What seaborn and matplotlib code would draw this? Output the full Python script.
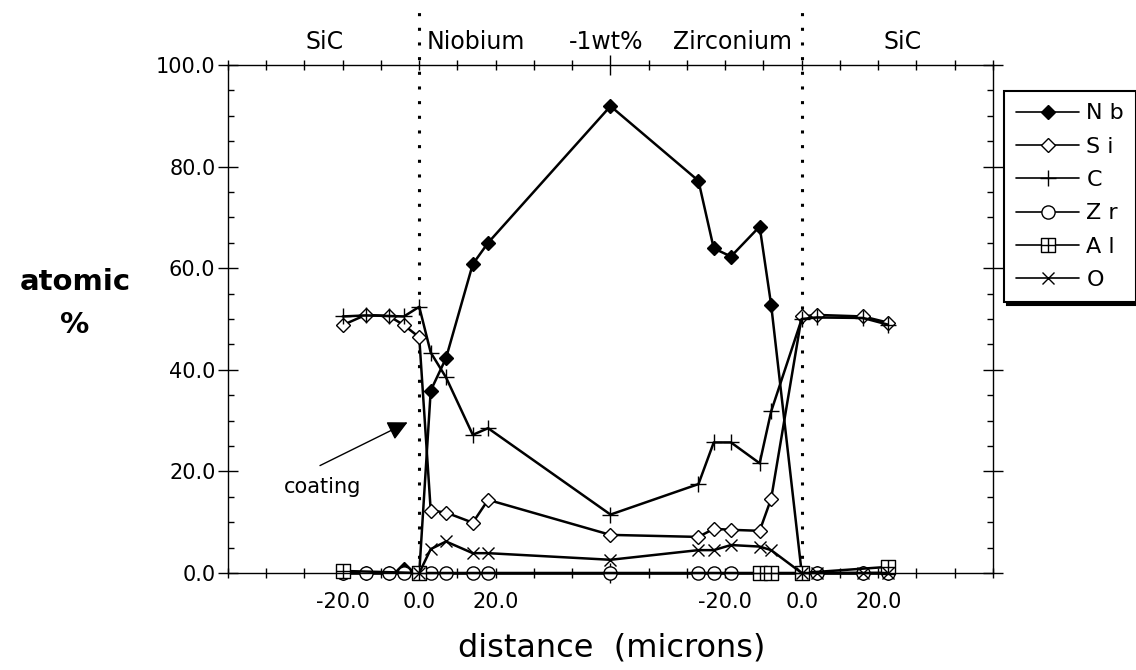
import matplotlib
matplotlib.use('Agg')
import matplotlib.pyplot as plt
import seaborn as sns
import pandas as pd
from matplotlib.lines import Line2D
from matplotlib.path import Path
from matplotlib.ticker import FixedLocator, MultipleLocator

# scan position (microns), left SiC/coating interface at 0, right interface at 100
pos = [-20, -14, -8, -4, 0, 3, 7, 14, 18, 50, 73, 77, 81.5, 89, 92, 100, 104, 116, 122.5]

nb = [0, 0, 0, 0.8, 0, 35.9, 42.3, 60.8, 65.0, 91.9, 77.2, 63.9, 62.3, 68.2, 52.8, 0, 0, 0, 0]
si = [48.8, 50.8, 50.6, 48.8, 46.4, 12.3, 11.9, 9.9, 14.4, 7.5, 7.1, 8.7, 8.5, 8.3, 14.6, 50.5, 50.8, 50.5, 49.3]
c = [50.5, 50.7, 50.6, 50.5, 52.4, 43.4, 38.5, 27.2, 28.5, 11.5, 17.5, 25.7, 25.7, 21.6, 31.8, 50.0, 50.3, 50.2, 48.9]
zr = [0, 0, 0, 0, 0, 0, 0, 0, 0, 0, 0, 0, 0, 0, 0, 0, 0, 0, 0]

al_pos = [-20, 0, 89, 92, 100, 122.5]
al = [0.4, 0, 0, 0, 0, 1.2]

o_pos = [0, 3, 7, 14, 18, 50, 73, 77, 81.5, 89, 92, 100, 104, 116, 122.5]
o = [0, 4.7, 6.2, 3.9, 3.9, 2.6, 4.5, 4.5, 5.5, 5.2, 4.5, 0, 0, 0, 0]

elements = ['N b', 'S i', 'C', 'Z r', 'A l', 'O']
xtick_pos = [-20, 0, 20, 50, 80, 100, 120]
xtick_labels = ['-20.0', '0.0', '20.0', '', '-20.0', '0.0', '20.0']
interfaces = [0, 100]

# square with a cross inside, for Al
sq_plus = Path(
    [(-1, -1), (1, -1), (1, 1), (-1, 1), (-1, -1), (0, -1), (0, 1), (-1, 0), (1, 0)],
    [Path.MOVETO, Path.LINETO, Path.LINETO, Path.LINETO, Path.CLOSEPOLY,
     Path.MOVETO, Path.LINETO, Path.MOVETO, Path.LINETO])

styles = {
    'N b': dict(marker='D', markersize=7, markerfacecolor='black'),
    'S i': dict(marker='D', markersize=7, markerfacecolor='white'),
    'C': dict(marker='+', markersize=11),
    'Z r': dict(marker='o', markersize=9.5, markerfacecolor='white'),
    'A l': dict(marker=sq_plus, markersize=9.5, markerfacecolor='white'),
    'O': dict(marker='x', markersize=9),
}

data = {
    'N b': pd.DataFrame({'pos': pos, 'pct': nb}),
    'S i': pd.DataFrame({'pos': pos, 'pct': si}),
    'C': pd.DataFrame({'pos': pos, 'pct': c}),
    'Z r': pd.DataFrame({'pos': pos, 'pct': zr}),
    'A l': pd.DataFrame({'pos': al_pos, 'pct': al}),
    'O': pd.DataFrame({'pos': o_pos, 'pct': o}),
}

sns.set_style('white')
plt.rcParams['font.family'] = ['DejaVu Sans']
plt.rcParams['text.color'] = 'black'
plt.rcParams['axes.labelcolor'] = 'black'
plt.rcParams['xtick.color'] = 'black'
plt.rcParams['ytick.color'] = 'black'

fig = plt.figure(figsize=(11.36, 6.70), dpi=100)
ax = fig.add_axes([0.2007, 0.1448, 0.6734, 0.7582])

for el in elements:
    sns.lineplot(data=data[el], x='pos', y='pct', ax=ax, color='black', linewidth=1.8,
                 markeredgecolor='black', markeredgewidth=1.0, clip_on=False,
                 errorbar=None, sort=False, legend=False, **styles[el])

# interface lines
for xi in interfaces:
    ax.plot([xi, xi], [0, 112], color='black', linewidth=2.2,
            linestyle=(0, (1, 3.8)), clip_on=False, zorder=1)

ax.set_xlim(-50, 150)
ax.set_ylim(0, 100)

ax.yaxis.set_major_locator(MultipleLocator(20))
ax.yaxis.set_minor_locator(MultipleLocator(5))
ax.set_yticklabels([f'{v:.1f}' for v in ax.get_yticks()])
ax.xaxis.set_major_locator(FixedLocator(xtick_pos))
ax.xaxis.set_minor_locator(MultipleLocator(10))
ax.set_xticklabels(xtick_labels)

ax.tick_params(axis='y', which='major', direction='inout', length=14, width=1,
               left=True, right=True, labelsize=15, pad=2, colors='black')
ax.tick_params(axis='y', which='minor', direction='in', length=4, width=1,
               left=True, right=True)
ax.tick_params(axis='x', which='both', direction='inout', length=7, width=1,
               bottom=True, top=True, labelsize=15, pad=10, colors='black')

# the middle tick is longer
for t in ax.xaxis.get_major_ticks():
    if t.get_loc() == 50:
        t.tick1line.set_markersize(14)
        t.tick2line.set_markersize(14)

ax.set_xlabel('')
ax.set_ylabel('')
for s in ax.spines.values():
    s.set_color('black')
    s.set_linewidth(1.0)

# region names above the plot
for txt, xp in [('SiC', -24.8), ('Niobium', 14.7), ('-1wt%', 48.8), ('Zirconium', 82.0), ('SiC', 126.4)]:
    ax.text(xp, 104.5, txt, ha='center', va='center', fontsize=17, clip_on=False)

# coating arrow
ax.annotate('', xy=(-2.4, 29.9), xytext=(-26.6, 20.9),
            arrowprops=dict(arrowstyle='-|>', mutation_scale=30, lw=1, color='black'))
ax.text(-25.3, 16.9, 'coating', ha='center', va='center', fontsize=15)

fig.text(75 / 1136, 1 - 282 / 670, 'atomic', ha='center', va='center', fontsize=21, fontweight='bold')
fig.text(75 / 1136, 1 - 325 / 670, '%', ha='center', va='center', fontsize=21, fontweight='bold')
fig.text(612 / 1136, 1 - 648 / 670, 'distance  (microns)', ha='center', va='center', fontsize=23)

handles = [Line2D([0], [0], color='black', linewidth=1.2, markeredgecolor='black',
                  markeredgewidth=1.0, **styles[el]) for el in elements]
leg = fig.legend(handles, elements, loc='upper left', bbox_to_anchor=(0.884, 0.864),
                 fontsize=16, frameon=True, fancybox=False, edgecolor='black',
                 framealpha=1, handlelength=2.8, handletextpad=0.35, labelspacing=0.6,
                 borderpad=0.55, borderaxespad=0, shadow={'color': 'black', 'alpha': 1})
leg.get_frame().set_linewidth(1.5)
for t in leg.get_texts():
    t.set_color('black')

fig.savefig('out.png', dpi=100, facecolor='white')
